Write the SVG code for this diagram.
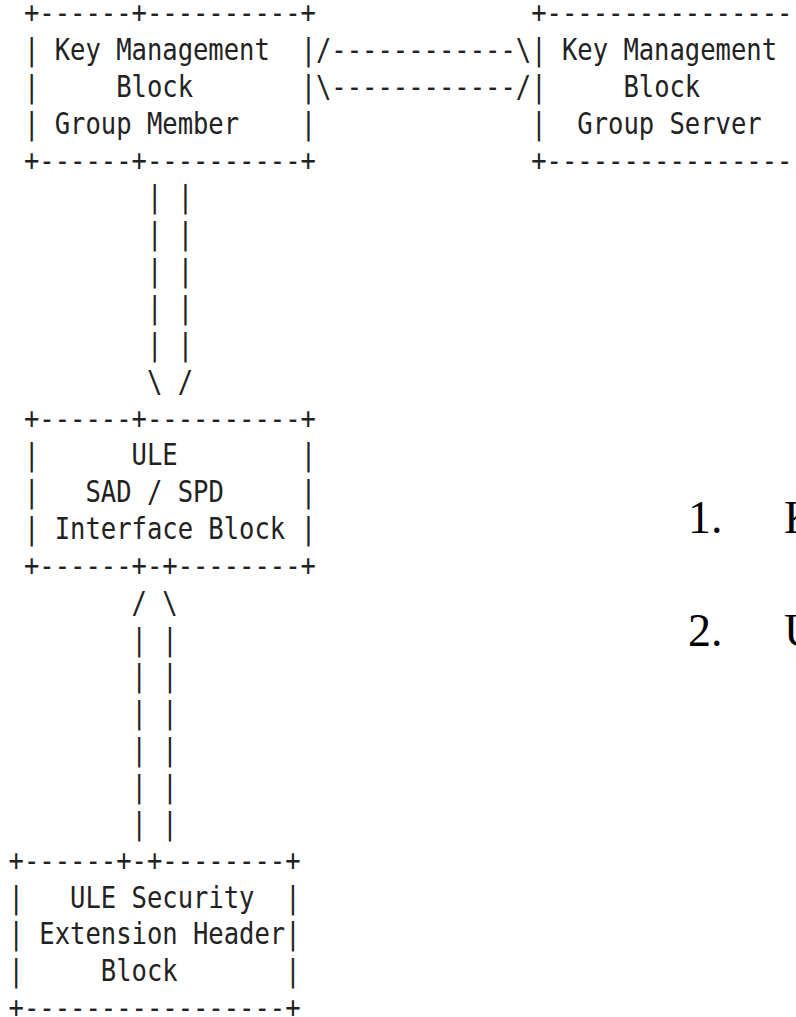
<svg xmlns="http://www.w3.org/2000/svg" width="796" height="1017" viewBox="0 0 796 1017">
  <style>
    .m { font-family: "DejaVu Sans Mono", "Liberation Mono", monospace; font-size: 29.5px; fill: #222; }
    .s { font-family: "Liberation Serif", "Times New Roman", serif; font-size: 46px; fill: #000; }
  </style>
  <rect width="796" height="1017" fill="#fff"/>

  <!-- ASCII figure on a monospace grid: 15.37px pitch, 36.85px line spacing.
       Inside the scaled group, column c starts at x = 9.96 + 17.76*c. -->
  <g transform="scale(0.8654 1)">

    <g id="km-group-member" class="m">
      <text x="27.72" y="23.2">+------+----------+</text>
      <text x="27.72" y="60.05">|</text><text x="63.24" y="60.05">Key Management</text><text x="347.41" y="60.05">|</text>
      <text x="27.72" y="96.9">|</text><text x="134.28" y="96.9">Block</text><text x="347.41" y="96.9">|</text>
      <text x="27.72" y="133.75">|</text><text x="63.24" y="133.75">Group Member</text><text x="347.41" y="133.75">|</text>
      <text x="27.72" y="170.6">+------+----------+</text>
    </g>

    <g id="km-group-server" class="m">
      <text x="613.81" y="23.2">+----------------</text>
      <text x="613.81" y="60.05">|</text><text x="649.33" y="60.05">Key Management</text>
      <text x="613.81" y="96.9">|</text><text x="720.38" y="96.9">Block</text>
      <text x="613.81" y="133.75">|</text><text x="667.09" y="133.75">Group Server</text>
      <text x="613.81" y="170.6">+----------------</text>
    </g>

    <g id="ule-sad-spd" class="m">
      <text x="27.72" y="428.55">+------+----------+</text>
      <text x="27.72" y="465.4">|</text><text x="152.04" y="465.4">ULE</text><text x="347.41" y="465.4">|</text>
      <text x="27.72" y="502.25">|</text><text x="98.76" y="502.25">SAD / SPD</text><text x="347.41" y="502.25">|</text>
      <text x="27.72" y="539.1">|</text><text x="63.24" y="539.1">Interface Block</text><text x="347.41" y="539.1">|</text>
      <text x="27.72" y="575.95">+------+-+--------+</text>
    </g>

    <g id="ule-security-ext" class="m">
      <text x="9.96" y="870.75">+------+-+--------+</text>
      <text x="9.96" y="907.6">|</text><text x="81.00" y="907.6">ULE Security</text><text x="329.65" y="907.6">|</text>
      <text x="9.96" y="944.45">|</text><text x="45.48" y="944.45">Extension Header|</text>
      <text x="9.96" y="981.3">|</text><text x="116.52" y="981.3">Block</text><text x="329.65" y="981.3">|</text>
      <text x="9.96" y="1018.15">+-----------------+</text>
    </g>

    <g id="connectors" class="m">
      <!-- member <-> server, two-way -->
      <text x="365.17" y="60.05">/------------\</text>
      <text x="365.17" y="96.9">\------------/</text>
      <!-- member -> SAD/SPD -->
      <text x="169.80" y="207.45">| |</text>
      <text x="169.80" y="244.3">| |</text>
      <text x="169.80" y="281.15">| |</text>
      <text x="169.80" y="318.0">| |</text>
      <text x="169.80" y="354.85">| |</text>
      <text x="169.80" y="391.7">\ /</text>
      <!-- extension header -> SAD/SPD -->
      <text x="152.04" y="612.8">/ \</text>
      <text x="152.04" y="649.65">| |</text>
      <text x="152.04" y="686.5">| |</text>
      <text x="152.04" y="723.35">| |</text>
      <text x="152.04" y="760.2">| |</text>
      <text x="152.04" y="797.05">| |</text>
      <text x="152.04" y="833.9">| |</text>
    </g>
  </g>

  <g id="numbered-list" class="s">
    <text x="688" y="533">1.</text>
    <text x="784" y="533">K</text>
    <text x="688" y="646">2.</text>
    <text x="784" y="646">U</text>
  </g>
</svg>
